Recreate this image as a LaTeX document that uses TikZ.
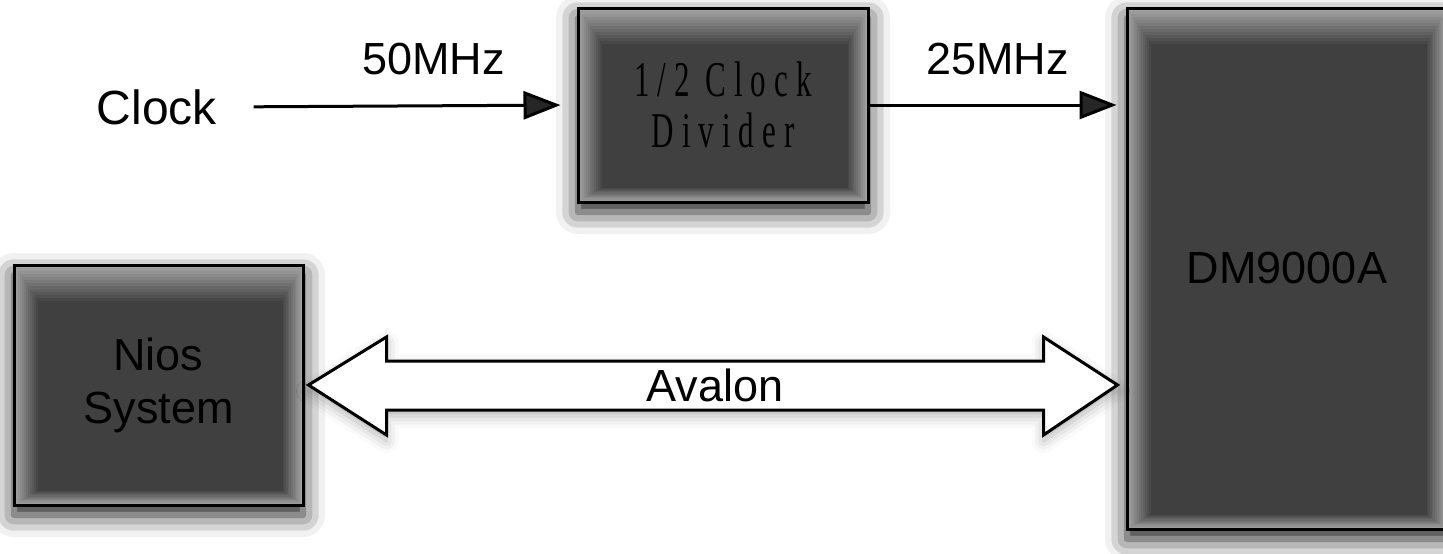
\documentclass[tikz,border=0pt]{standalone}
\usepackage{fontspec}
\setmainfont{Liberation Sans}
\newfontfamily\divfont[FakeStretch=0.62,LetterSpace=16]{Liberation Serif}
\usetikzlibrary{positioning,calc,arrows.meta,shadows.blur}

\tikzset{
	glow/.style={
		path picture={
			\foreach \k in {0,...,12}{
				\pgfmathsetmacro\tone{36+39*\k/12}
				\fill[black!\tone] ([shift={({2*\k*1pt},{-3*\k*1pt})}]path picture bounding box.north west)
					rectangle ([shift={({-1.7*\k*1pt},{1.2*\k*1pt})}]path picture bounding box.south east);
			}
		}
	},
	block/.style={draw=black,line width=3pt,fill=black!75,glow,
		blur shadow={shadow xshift=0pt,shadow yshift=-10pt,shadow blur radius=22pt,shadow opacity=90},
		font=\fontsize{45}{53}\selectfont,align=center,inner sep=0pt},
	lbl/.style={font=\fontsize{45}{53}\selectfont,inner sep=0pt},
	bus/.style={draw=black,line width=3pt,fill=white,line join=miter,
		blur shadow={shadow xshift=0pt,shadow yshift=-6pt,shadow blur radius=12pt,shadow opacity=30}}
}

\begin{document}
\begin{tikzpicture}[x=1pt,y=-1pt,>={Triangle[length=37pt,width=28pt]},line width=3pt]
	\useasboundingbox (0,0) rectangle (1443,554);
	\node[block,minimum width=290pt,minimum height=194pt] (div) at (723,105)
		{{\divfont\fontsize{50}{48}\selectfont 1/2 Clock}\\[-2pt]{\divfont\fontsize{50}{48}\selectfont Divider}};
	\node[block,minimum width=320pt,minimum height=521pt] (dm) at (1287,268.5) {DM9000A};
	\node[block,minimum width=289pt,minimum height=240pt] (nios) at (158.5,385) {Nios\\System};
	\node[lbl,font=\fontsize{48}{56}\selectfont] (clock) at (157,107) {Clock};

	% Avalon bus
	\draw[bus] ([xshift=4pt]nios.east) -- ++(78,-48) -- ++(0,24)
		-- ($(dm.west |- nios.east)+(-82,-24)$) -- ++(0,-24)
		-- ($(dm.west |- nios.east)+(-8,0)$) -- ++(-74,50) -- ++(0,-25)
		-- ($(nios.east)+(82,25)$) -- ++(0,25) -- cycle;
	\node[lbl] (avalon) at ($(nios.east)!0.5!(dm.west |- nios.east)$) {Avalon};

	\draw[->,shorten <=35pt,shorten >=16pt] (clock.east) -- (div.west)
		node[lbl,above=29pt,pos=0.6] {50MHz};
	\draw[->,shorten >=9pt] (div.east) -- (dm.west |- div.east)
		node[lbl,above=29pt,midway] {25MHz};
\end{tikzpicture}
\end{document}
